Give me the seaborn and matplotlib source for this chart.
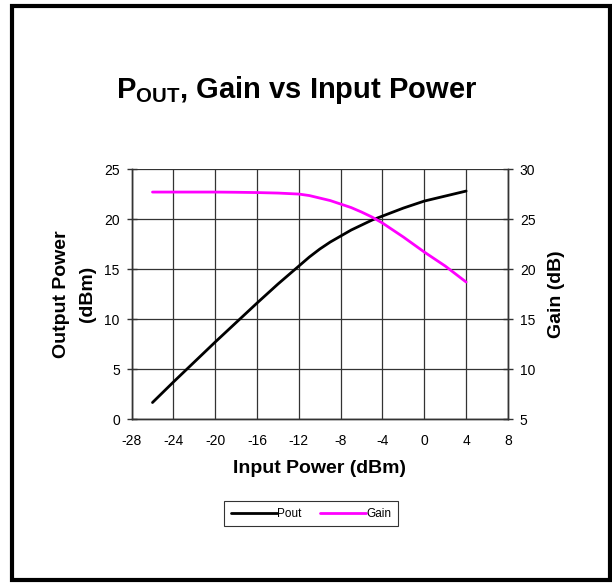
import numpy as np
import pandas as pd
import matplotlib
matplotlib.use('Agg')
import matplotlib.pyplot as plt
import matplotlib.patches as patches
import seaborn as sns

# values
pin = [-26, -24, -22, -20, -18, -16, -14, -12, -11, -10, -9, -8, -7, -6, -5, -4, -3, -2, -1, 0, 1, 2, 3, 4]
pout = [1.65, 3.7, 5.7, 7.7, 9.65, 11.6, 13.5, 15.3, 16.2, 17.0, 17.7, 18.3, 18.9, 19.4, 19.9, 20.3,
        20.7, 21.1, 21.45, 21.8, 22.05, 22.3, 22.55, 22.8]
gain = [27.7, 27.7, 27.7, 27.7, 27.68, 27.65, 27.6, 27.5, 27.35, 27.1, 26.85, 26.5, 26.15, 25.7,
        25.2, 24.6, 23.9, 23.2, 22.45, 21.7, 21.0, 20.3, 19.5, 18.7]
x_ticks = [-28, -24, -20, -16, -12, -8, -4, 0, 4, 8]

df = pd.DataFrame({'pin': pin, 'Pout': pout, 'Gain': gain})

sns.set_style('white')
plt.rcParams['font.family'] = ['Liberation Sans', 'DejaVu Sans']
plt.rcParams['text.color'] = 'black'
plt.rcParams['axes.labelcolor'] = 'black'
plt.rcParams['axes.unicode_minus'] = False
plt.rcParams['mathtext.fontset'] = 'custom'
plt.rcParams['mathtext.rm'] = 'Liberation Sans:bold'
plt.rcParams['mathtext.bf'] = 'Liberation Sans:bold'

fig = plt.figure(figsize=(6.12, 5.84), dpi=100)
ax = fig.add_axes([0.215, 0.2825, 0.615, 0.428])
ax2 = ax.twinx()

sns.lineplot(data=df, x='pin', y='Pout', ax=ax, color='black', lw=2, label='Pout', legend=False)
sns.lineplot(data=df, x='pin', y='Gain', ax=ax2, color='#FF00FF', lw=2, label='Gain', legend=False)

ax.set_xlim(-28, 8)
ax.set_ylim(0, 25)
ax2.set_ylim(5, 30)
ax.set_xticks(x_ticks)
ax.set_yticks(range(0, 26, 5))
ax2.set_yticks(range(5, 31, 5))

ax.grid(True, color='#333333', lw=0.9)
ax.set_axisbelow(True)
for a in (ax, ax2):
    a.spines['top'].set_visible(False)
    for s in ('left', 'right', 'bottom'):
        a.spines[s].set_color('#333333')
        a.spines[s].set_linewidth(1.0)
    a.tick_params(direction='inout', length=7, width=1, colors='#333333', labelcolor='black',
                  labelsize=10, pad=5)
ax.tick_params(axis='x', pad=7)

ax.set_xlabel('Input Power (dBm)', fontsize=14, fontweight='bold', labelpad=9)
ax.set_ylabel('Output Power\n(dBm)', fontsize=14, fontweight='bold', labelpad=6,
              linespacing=1.7)
ax2.set_ylabel('Gain (dB)', fontsize=14, fontweight='bold', labelpad=9)

fig.text(0.485, 0.846, r'$\mathrm{P}_{\mathrm{OUT}}$, Gain vs Input Power',
         ha='center', va='center', fontsize=21, fontweight='bold')

h1, l1 = ax.get_legend_handles_labels()
h2, l2 = ax2.get_legend_handles_labels()
leg = fig.legend(h1 + h2, l1 + l2, loc='center', bbox_to_anchor=(0.508, 0.12), ncol=2,
                 fontsize=8.5, frameon=True, fancybox=False, handlelength=3.9,
                 handletextpad=0.0, columnspacing=1.6, borderpad=0.55, borderaxespad=0)
leg.get_frame().set_edgecolor('black')
leg.get_frame().set_linewidth(0.8)

fig.patches.append(patches.Rectangle((12 / 612, 4.5 / 584), 597.5 / 612, 574 / 584,
                                     transform=fig.transFigure, fill=False,
                                     edgecolor='black', lw=3, zorder=10))

fig.savefig('out.png', dpi=100)
